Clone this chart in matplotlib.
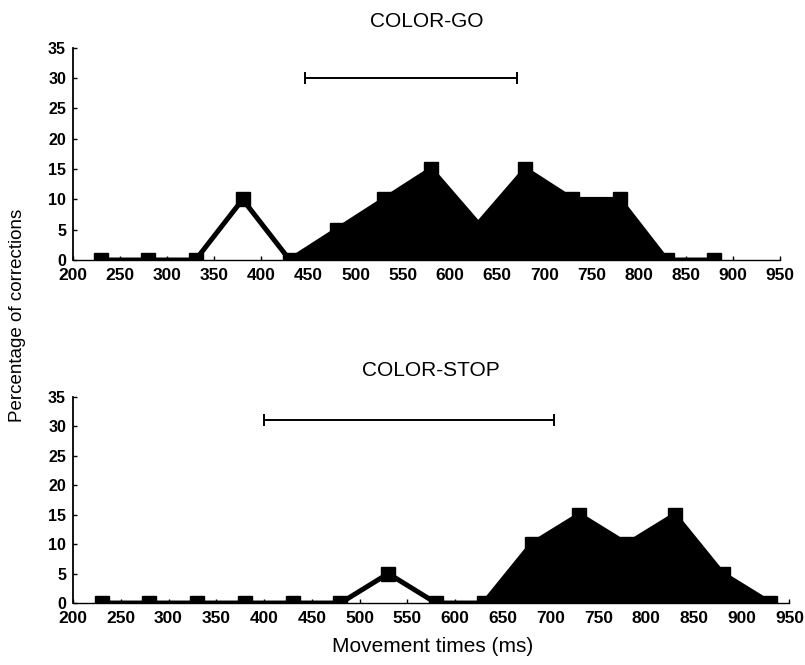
import matplotlib
matplotlib.use('Agg')
import matplotlib.pyplot as plt

# movement-time bins (ms) and percentage of corrections
bins_go = [230, 280, 330, 380, 430, 480, 530, 580, 630, 680, 730, 780, 830, 880]
pct_go = [0, 0, 0, 10, 0, 5, 10, 15, 6, 15, 10, 10, 0, 0]
marked_go = [True, True, True, True, True, True, True, True, False, True, True, True, True, True]
fill_from_go = 430

bins_stop = [230, 280, 330, 380, 430, 480, 530, 580, 630, 680, 730, 780, 830, 880, 930]
pct_stop = [0, 0, 0, 0, 0, 0, 5, 0, 0, 10, 15, 10, 15, 5, 0]
marked_stop = [True] * len(bins_stop)
fill_from_stop = 630

# mean movement time +/- range bar (ms), drawn at given height
bar_go = (558.5, 112.5, 30)
bar_stop = (551.5, 151.5, 31)

xticks = list(range(200, 951, 50))
yticks = list(range(0, 36, 5))

tick_font = ['Liberation Sans Narrow', 'Liberation Sans', 'DejaVu Sans']
text_font = ['Liberation Sans', 'DejaVu Sans']

fig = plt.figure(figsize=(8.05, 6.65), dpi=100)
ax1 = fig.add_axes([0.0907, 0.609, 0.878, 0.319])
ax2 = fig.add_axes([0.0907, 0.0932, 0.890, 0.310])


def draw(ax, x, y, marked, fill_from, bar, title):
    mask = [xi >= fill_from for xi in x]
    ax.fill_between(x, 0, y, where=mask, color='black', linewidth=0)
    ax.plot(x, y, color='black', linewidth=3.6, solid_joinstyle='miter',
            marker='s', markersize=9.5, markevery=marked,
            markerfacecolor='black', markeredgecolor='black')
    ax.errorbar([bar[0]], [bar[2]], xerr=[bar[1]], color='black',
                linewidth=1.4, capsize=4, capthick=1.4, fmt='none')
    ax.set_xlim(200, 950)
    ax.set_ylim(0, 35)
    ax.set_xticks(xticks)
    ax.set_yticks(yticks)
    ax.spines['top'].set_visible(False)
    ax.spines['right'].set_visible(False)
    ax.spines['left'].set_linewidth(1.3)
    ax.spines['bottom'].set_linewidth(1.0)
    ax.tick_params(axis='both', direction='in', length=3, width=1)
    for lab in ax.get_xticklabels():
        lab.set_family(tick_font)
        lab.set_fontweight('bold')
        lab.set_fontsize(12.5)
    for lab in ax.get_yticklabels():
        lab.set_family(tick_font)
        lab.set_fontweight('bold')
        lab.set_fontsize(11.5)
    ax.tick_params(axis='x', pad=6)
    ax.tick_params(axis='y', pad=5)
    ax.set_title(title, family=text_font, fontsize=15, pad=15)


draw(ax1, bins_go, pct_go, marked_go, fill_from_go, bar_go, 'COLOR-GO')
draw(ax2, bins_stop, pct_stop, marked_stop, fill_from_stop, bar_stop, 'COLOR-STOP')

fig.text(0.537, 0.013, 'Movement times (ms)', family=text_font, fontsize=15,
         ha='center', va='bottom')
fig.text(0.022, 0.526, 'Percentage of corrections', family=text_font, fontsize=13.5,
         rotation=90, ha='center', va='center')

plt.savefig('out.png', dpi=100)
